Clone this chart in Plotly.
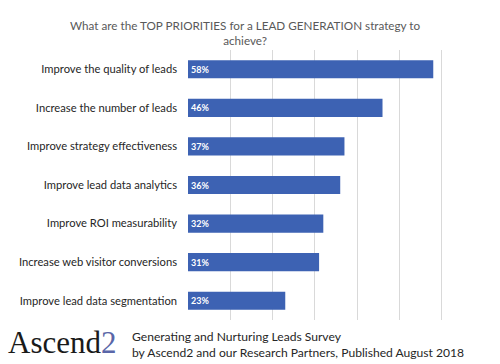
import plotly.graph_objects as go

categories = [
    "Improve the quality of leads",
    "Increase the number of leads",
    "Improve strategy effectiveness",
    "Improve lead data analytics",
    "Improve ROI measurability",
    "Increase web visitor conversions",
    "Improve lead data segmentation",
]
values = [58, 46, 37, 36, 32, 31, 23]
labels = [f"{v}%" for v in values]

title = "What are the TOP PRIORITIES for a LEAD GENERATION strategy to<br>achieve?"
footer = "Generating and Nurturing Leads Survey<br>by Ascend2 and our Research Partners, Published August 2018"

W, H = 500, 364
ML, MR, MT, MB = 188, 16, 50, 44

fig = go.Figure(go.Bar(
    x=values,
    y=categories,
    orientation="h",
    marker=dict(color="#3D62B3", line=dict(width=0)),
    width=0.47,
    text=labels,
    textposition="inside",
    insidetextanchor="start",
    textfont=dict(color="white", size=9, family="Lato", weight="bold"),
))

fig.update_layout(
    width=W, height=H,
    margin=dict(l=ML, r=MR, t=MT, b=MB),
    paper_bgcolor="white", plot_bgcolor="white",
    font=dict(family="Lato", color="#333333", size=11),
    showlegend=False,
    xaxis=dict(range=[0, 70], dtick=10, showgrid=True, gridcolor="#d9d9d9",
               gridwidth=1, showticklabels=False, zeroline=False, showline=False),
    yaxis=dict(autorange="reversed", showgrid=False, ticks="", ticklabelstandoff=10,
               tickfont=dict(size=11.2, color="#262626", family="Lato"),
               showline=False, zeroline=False, automargin=False),
)

plot_w = W - ML - MR
plot_h = H - MT - MB
def px_to_paper(px, py):
    return (px - ML) / plot_w, (H - MB - py) / plot_h

tx, ty = px_to_paper(245, 32)
lx, ly = px_to_paper(6, 342)
fx, fy = px_to_paper(130, 344)
fig.add_annotation(text=title, x=tx, y=ty, xref="paper", yref="paper",
                   showarrow=False, xanchor="center", yanchor="middle",
                   font=dict(size=11.7, color="#595959", family="Lato"))
fig.add_annotation(text="Ascend<span style='color:#5A66A8'>2</span>",
                   x=lx, y=ly, xref="paper", yref="paper", showarrow=False,
                   xanchor="left", yanchor="middle",
                   font=dict(size=31, color="#1a1a1a", family="Liberation Serif"))
fig.add_annotation(text=footer, x=fx, y=fy, xref="paper", yref="paper",
                   showarrow=False, xanchor="left", yanchor="middle", align="left",
                   font=dict(size=12.1, color="#262626", family="Lato"))

fig.write_html("out.html", config={"displayModeBar": False},
               post_script="document.body.style.margin='0';")
